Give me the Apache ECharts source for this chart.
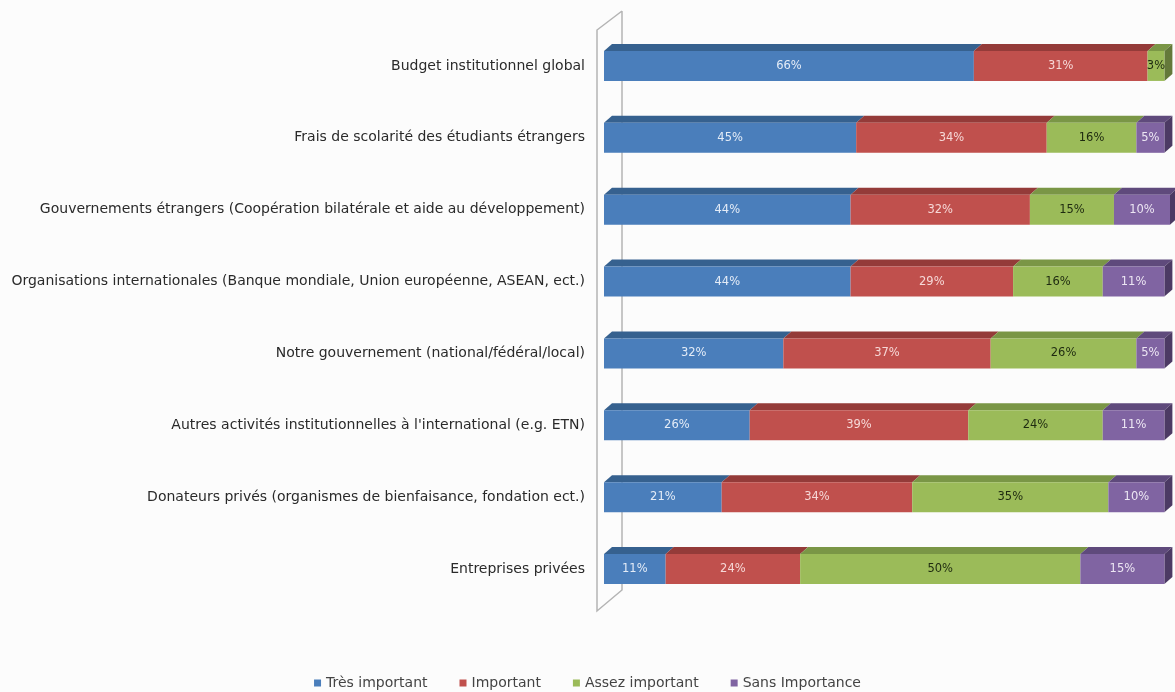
<!DOCTYPE html>
<html>
<head>
<meta charset="utf-8">
<script src="https://cdn.jsdelivr.net/npm/echarts@6/dist/echarts.min.js"></script>
<style>
html,body{margin:0;padding:0;background:#fcfcfc;}
#chart{width:1175px;height:692px;}
</style>
</head>
<body>
<div id="chart"></div>
<script>
const categories = [
  "Budget institutionnel global",
  "Frais de scolarité des étudiants étrangers",
  "Gouvernements étrangers (Coopération bilatérale et aide au développement)",
  "Organisations internationales (Banque mondiale, Union européenne, ASEAN, ect.)",
  "Notre gouvernement (national/fédéral/local)",
  "Autres activités institutionnelles à l'international (e.g. ETN)",
  "Donateurs privés (organismes de bienfaisance, fondation ect.)",
  "Entreprises privées"
];
const seriesNames = ["Très important", "Important", "Assez important", "Sans Importance"];
const tresImportant   = [66, 45, 44, 44, 32, 26, 21, 11];
const important       = [31, 34, 32, 29, 37, 39, 34, 24];
const assezImportant  = [3, 16, 15, 16, 26, 24, 35, 50];
const sansImportance  = [0, 5, 10, 11, 5, 11, 10, 15];

const allValues = [tresImportant, important, assezImportant, sansImportance];
const frontColors = ["#4a7ebb", "#c0504d", "#9bbb59", "#8064a2"];
const topColors   = ["#36618f", "#943b39", "#7a9646", "#5f4a7c"];
const sideColors  = ["#2d5079", "#7a302f", "#64793a", "#4c3a64"];
const labelColors = ["#e4ecf7", "#f6d8d7", "#1e2a10", "#ece6f3"];

const BAR_H = 30, DX = 8, DY = 7;
const FONT = 'DejaVu Sans';

const chart = echarts.init(document.getElementById('chart'));

const barSeries = allValues.map((vals, k) => ({
  name: seriesNames[k],
  type: 'bar',
  stack: 'total',
  barWidth: BAR_H,
  z: 3,
  data: vals,
  itemStyle: { color: frontColors[k] },
  label: {
    show: true,
    position: 'inside',
    fontFamily: FONT,
    fontSize: 11.5,
    color: labelColors[k],
    formatter: p => p.value > 0 ? p.value + '%' : ''
  }
}));

const depthSeries = {
  type: 'custom',
  silent: true,
  z: 2,
  encode: { x: 0, y: 1 },
  data: categories.map((c, i) => [100, i]),
  renderItem: function (params, api) {
    const i = params.dataIndex;
    const children = [];
    let cum = 0;
    let lastK = -1;
    for (let k = 0; k < allValues.length; k++) if (allValues[k][i] > 0) lastK = k;
    for (let k = 0; k < allValues.length; k++) {
      const v = allValues[k][i];
      if (!(v > 0)) continue;
      const p0 = api.coord([cum, i]);
      const p1 = api.coord([cum + v, i]);
      const yTop = p0[1] - BAR_H / 2;
      const yBot = p0[1] + BAR_H / 2;
      children.push({
        type: 'polygon',
        shape: { points: [[p0[0], yTop], [p0[0] + DX, yTop - DY], [p1[0] + DX, yTop - DY], [p1[0], yTop]] },
        style: { fill: topColors[k] }
      });
      if (k === lastK) {
        children.push({
          type: 'polygon',
          shape: { points: [[p1[0], yTop], [p1[0] + DX, yTop - DY], [p1[0] + DX, yBot - DY], [p1[0], yBot]] },
          style: { fill: sideColors[k] }
        });
      }
      cum += v;
    }
    return { type: 'group', children: children };
  }
};

chart.setOption({
  backgroundColor: '#fcfcfc',
  animation: false,
  grid: { left: 604, right: 5, top: 30, bottom: 87 },
  xAxis: {
    type: 'value', min: 0, max: 101,
    show: false
  },
  yAxis: {
    type: 'category',
    data: categories,
    inverse: true,
    axisLine: { show: false },
    axisTick: { show: false },
    axisLabel: {
      margin: 19,
      fontFamily: FONT,
      fontSize: 14,
      color: '#2a2a2a'
    }
  },
  legend: {
    data: seriesNames,
    bottom: -3,
    left: 'center',
    icon: 'rect',
    itemWidth: 7,
    itemHeight: 7,
    itemGap: 32,
    textStyle: { fontFamily: FONT, fontSize: 14, color: '#444' }
  },
  graphic: [{
    type: 'polyline',
    z: 0,
    silent: true,
    shape: { points: [[622, 11], [597, 30], [597, 611], [622, 590], [622, 11]] },
    style: { stroke: '#b4b4b4', lineWidth: 1.5, fill: 'none' }
  }],
  series: barSeries.concat([depthSeries])
});
</script>
</body>
</html>
